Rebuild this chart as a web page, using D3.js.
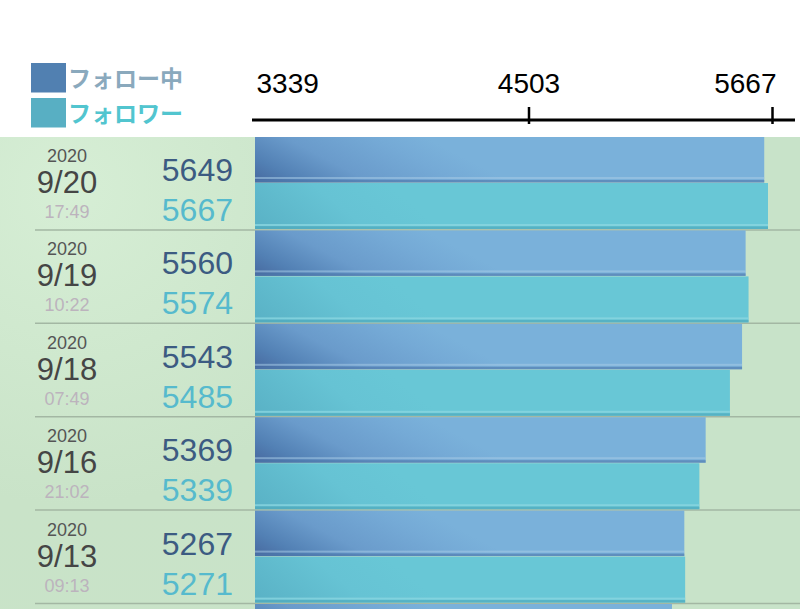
<!DOCTYPE html>
<html>
<head>
<meta charset="utf-8">
<script src="https://cdn.jsdelivr.net/npm/d3@7"></script>
<style>
  body { margin: 0; background: #fff; }
  svg { display: block; }
</style>
</head>
<body>
<svg id="chart"></svg>
<script>
const width = 800;
const height = 609;

// data (last row is only cut in at the bottom edge)
const years = ["2020", "2020", "2020", "2020", "2020", ""];
const dates = ["9/20", "9/19", "9/18", "9/16", "9/13", ""];
const times = ["17:49", "10:22", "07:49", "21:02", "09:13", ""];
const following = [5649, 5560, 5543, 5369, 5267, 5208];
const followers = [5667, 5574, 5485, 5339, 5271, 5215];
const tickValues = [3339, 4503, 5667];
const seriesNames = ["フォロー中", "フォロワー"];

const followColor = "#3c5b82";
const followerColor = "#56bacd";

const svg = d3.select("#chart")
  .attr("width", width)
  .attr("height", height)
  .style("font-family", "'Liberation Sans', Arial, sans-serif");

const defs = svg.append("defs");

const bg = defs.append("radialGradient")
  .attr("id", "bg")
  .attr("gradientUnits", "userSpaceOnUse")
  .attr("cx", 70).attr("cy", 190).attr("r", 700);
bg.append("stop").attr("offset", "0%").attr("stop-color", "#d6eed5");
bg.append("stop").attr("offset", "45%").attr("stop-color", "#c9e3c8");
bg.append("stop").attr("offset", "100%").attr("stop-color", "#c8e3c9");

// gradients in row-local coordinates
const gFollow = defs.append("linearGradient")
  .attr("id", "gFollow")
  .attr("gradientUnits", "userSpaceOnUse")
  .attr("x1", 255).attr("y1", 45).attr("x2", 310).attr("y2", -60);
gFollow.append("stop").attr("offset", "0%").attr("stop-color", "#47699f");
gFollow.append("stop").attr("offset", "18%").attr("stop-color", "#5280b4");
gFollow.append("stop").attr("offset", "45%").attr("stop-color", "#6a9bcb");
gFollow.append("stop").attr("offset", "80%").attr("stop-color", "#75aad6");
gFollow.append("stop").attr("offset", "100%").attr("stop-color", "#7ab1da");

const gFollower = defs.append("linearGradient")
  .attr("id", "gFollower")
  .attr("gradientUnits", "userSpaceOnUse")
  .attr("x1", 255).attr("y1", 92).attr("x2", 330).attr("y2", 0);
gFollower.append("stop").attr("offset", "0%").attr("stop-color", "#59b1c5");
gFollower.append("stop").attr("offset", "60%").attr("stop-color", "#66c3d4");
gFollower.append("stop").attr("offset", "100%").attr("stop-color", "#68c7d6");

const top0 = 137;
const rowH = 93.4;
const barLeft = 255;

// green panel
svg.append("rect")
  .attr("x", 0).attr("y", top0)
  .attr("width", width).attr("height", height - top0)
  .attr("fill", "url(#bg)");

const x = d3.scaleLinear()
  .domain([tickValues[0], tickValues[2]])
  .range([281, 768]);

const y = d3.scaleBand()
  .domain(d3.range(following.length))
  .range([top0, top0 + rowH * following.length]);

const rows = svg.selectAll(".row")
  .data(d3.range(following.length))
  .enter().append("g")
  .attr("class", "row")
  .attr("transform", i => "translate(0," + y(i) + ")");

// separators
rows.append("line")
  .attr("x1", 35).attr("x2", width)
  .attr("y1", rowH - 0.5).attr("y2", rowH - 0.5)
  .attr("stroke", "#a3b7a3")
  .attr("stroke-width", 1.5);

// following bars
const wFollow = i => x(following[i]) - barLeft;
rows.append("rect")
  .attr("x", barLeft).attr("y", 0)
  .attr("width", wFollow)
  .attr("height", 45.5)
  .attr("fill", "url(#gFollow)");
rows.append("rect")
  .attr("x", barLeft).attr("y", 40)
  .attr("width", wFollow)
  .attr("height", 2)
  .attr("fill", "#a6cae6").attr("opacity", 0.55);
rows.append("rect")
  .attr("x", barLeft).attr("y", 43)
  .attr("width", wFollow)
  .attr("height", 2.5)
  .attr("fill", "#4d76aa").attr("opacity", 0.6);

// follower bars
const wFollower = i => x(followers[i]) - barLeft;
rows.append("rect")
  .attr("x", barLeft).attr("y", 46)
  .attr("width", wFollower)
  .attr("height", 46)
  .attr("fill", "url(#gFollower)");
rows.append("rect")
  .attr("x", barLeft).attr("y", 87)
  .attr("width", wFollower)
  .attr("height", 2)
  .attr("fill", "#8ad6e0").attr("opacity", 0.8);
rows.append("rect")
  .attr("x", barLeft).attr("y", 89.5)
  .attr("width", wFollower)
  .attr("height", 2.5)
  .attr("fill", "#4fa9bc").attr("opacity", 0.7);

// labels only for rows that are fully in view
const labelled = rows.filter(i => dates[i] !== "");

labelled.append("text")
  .attr("x", 67).attr("y", 25)
  .attr("text-anchor", "middle")
  .attr("font-size", 18)
  .attr("fill", "#555")
  .text(i => years[i]);
labelled.append("text")
  .attr("x", 67).attr("y", 56)
  .attr("text-anchor", "middle")
  .attr("font-size", 31)
  .attr("fill", "#454545")
  .text(i => dates[i]);
labelled.append("text")
  .attr("x", 67).attr("y", 81)
  .attr("text-anchor", "middle")
  .attr("font-size", 18)
  .attr("fill", "#bcb3bd")
  .text(i => times[i]);

labelled.append("text")
  .attr("x", 233).attr("y", 44)
  .attr("text-anchor", "end")
  .attr("font-size", 32)
  .attr("fill", followColor)
  .text(i => following[i]);
labelled.append("text")
  .attr("x", 233).attr("y", 84)
  .attr("text-anchor", "end")
  .attr("font-size", 32)
  .attr("fill", followerColor)
  .text(i => followers[i]);

// axis
const axisY = 120;
const axisG = svg.append("g")
  .attr("transform", "translate(4," + axisY + ")")
  .call(d3.axisTop(x).tickValues(tickValues).tickSize(0).tickPadding(27).tickFormat(d3.format("d")));
axisG.select(".domain").remove();
axisG.selectAll(".tick text")
  .attr("font-size", 28)
  .attr("font-family", "'Liberation Sans', Arial, sans-serif")
  .attr("fill", "#000")
  .attr("dy", 0)
  .attr("text-anchor", (d, i) => i === 0 ? "start" : i === tickValues.length - 1 ? "end" : "middle")
  .attr("dx", (d, i) => i === 0 ? -29 : i === tickValues.length - 1 ? 4 : 0);
axisG.selectAll(".tick")
  .filter((d, i) => i > 0)
  .append("line")
  .attr("y1", -13).attr("y2", 4)
  .attr("stroke", "#000").attr("stroke-width", 2.5);
svg.append("line")
  .attr("x1", 252).attr("x2", 795)
  .attr("y1", axisY).attr("y2", axisY)
  .attr("stroke", "#000").attr("stroke-width", 3);

// legend
const legendColors = ["#5180b1", "#58afc3"];
const legendText = ["#8aa9bd", "#52c5cf"];
const legend = svg.selectAll(".legend")
  .data(seriesNames)
  .enter().append("g")
  .attr("class", "legend")
  .attr("transform", (d, i) => "translate(31," + (63 + i * 35) + ")");
legend.append("rect")
  .attr("width", 35).attr("height", 29.5)
  .attr("fill", (d, i) => legendColors[i]);
legend.append("text")
  .attr("x", 37).attr("y", 24)
  .attr("font-size", 23)
  .attr("font-weight", 700)
  .attr("font-family", "'Noto Sans CJK JP', sans-serif")
  .attr("fill", (d, i) => legendText[i])
  .text(d => d);
</script>
</body>
</html>
